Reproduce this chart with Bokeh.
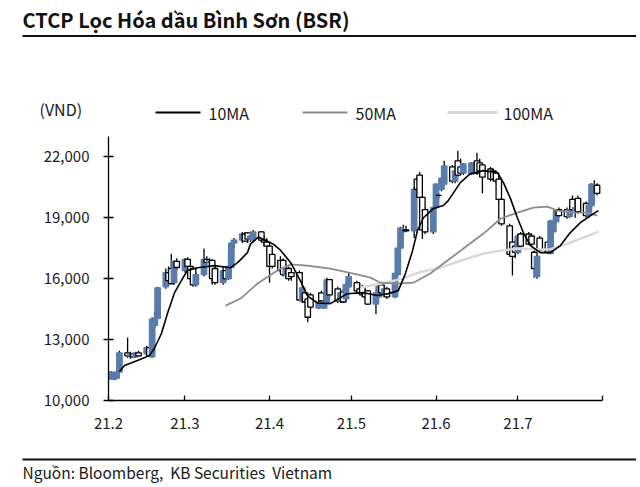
import numpy as np
import pandas as pd
from bokeh.plotting import figure
from bokeh.layouts import column
from bokeh.models import Range1d, FixedTicker, NumeralTickFormatter, ColumnDataSource
from bokeh.core.properties import value
from bokeh.embed import file_html
from bokeh.resources import INLINE

# ---------------- data ----------------
DATES = pd.bdate_range("2021-02-01", "2021-07-30")

OPEN = [11050, 11100, 11050, 11100, 11400, 12350, 12200, 12300, 12150, 12350,
        12300, 12600, 12150, 13700, 14050, 15600, 16300, 16500, 15800, 16850,
        16400, 16950, 16600, 16500, 15700, 16200, 16950, 16800, 16900, 16500,
        15800, 16400, 16000, 16550, 17750, 17900, 18200, 18250, 17950, 17900,
        18300, 17900, 17800, 17600, 17200, 16900, 16900, 16200, 16500, 16300,
        16300, 14900, 15300, 15000, 15200, 14550, 15300, 14550, 14800, 15950,
        15500, 14900, 15350, 15000, 15600, 15800, 15500, 15600, 15300, 15400,
        14750, 15100, 15700, 15300, 15500, 15100, 16200, 17500, 18300, 18400,
        18350, 20900, 21100, 20000, 19400, 18300, 19500, 20100, 20400, 20650,
        21500, 20800, 21800, 21500, 21200, 21150, 21300, 21800, 21700, 21600,
        21400, 21300, 21200, 20900, 19900, 18600, 17800, 17600, 17300, 18200,
        18200, 18100, 17300, 16100, 18000, 17800, 17250, 18300, 18800, 19400,
        19400, 19050, 19900, 19400, 19950, 19700, 19100, 19600, 20200, 20600]
HIGH = [11450, 11450, 11400, 11450, 12450, 13100, 12400, 12350, 12400, 12450,
        12700, 12650, 14100, 14400, 15600, 16500, 16600, 17230, 16900, 17000,
        17000, 17050, 16800, 16600, 16300, 17480, 17100, 17000, 16950, 16650,
        16600, 16500, 17230, 17800, 18000, 18300, 18300, 18300, 18300, 18400,
        18350, 18100, 18000, 17750, 17300, 17100, 17000, 16700, 16600, 16500,
        16400, 15600, 15400, 15100, 15300, 15200, 15400, 14900, 16050, 16000,
        15600, 15400, 15500, 15800, 16300, 15900, 15800, 15700, 15500, 15450,
        15350, 15750, 15800, 15600, 15600, 16300, 17550, 18550, 18650, 18600,
        20500, 21000, 21250, 20100, 19500, 19550, 20700, 20200, 21000, 21800,
        21600, 21400, 22300, 21900, 21700, 21750, 21700, 22200, 21900, 21700,
        21500, 21400, 21300, 21100, 20000, 18700, 18000, 17900, 18200, 18300,
        18300, 18200, 17400, 17150, 18100, 17900, 18900, 18900, 19400, 19500,
        19500, 19500, 20100, 19900, 20100, 19800, 19700, 20700, 20850, 20700]
LOW = [11000, 11050, 11000, 11050, 11350, 12100, 12050, 12100, 12100, 12150,
       12200, 12150, 12100, 13600, 14000, 15500, 15800, 15750, 15700, 16400,
       16300, 16550, 15900, 15600, 15600, 16100, 16700, 16600, 15700, 15700,
       15700, 15900, 15950, 16500, 17500, 17750, 17800, 17750, 17800, 17850,
       17800, 17600, 17500, 15800, 16500, 16300, 16100, 16000, 15900, 15900,
       14900, 14800, 14800, 13850, 14500, 14500, 14800, 14500, 14750, 15100,
       14800, 14800, 14800, 14900, 15500, 15300, 15200, 15100, 15000, 14700,
       14250, 15050, 15200, 15100, 15000, 15050, 16150, 17450, 18200, 18300,
       18000, 20200, 19950, 17950, 18200, 18200, 19400, 19950, 20300, 20600,
       20700, 20700, 21000, 21100, 21100, 21100, 21200, 21100, 21200, 20200,
       20800, 20800, 20700, 19800, 18600, 17100, 16150, 17000, 17200, 17500,
       17650, 17600, 16050, 16000, 17300, 17200, 17200, 18200, 18700, 19000,
       18950, 19000, 19300, 19000, 19200, 19000, 19000, 19500, 20100, 20100]
CLOSE = [11400, 11350, 11400, 11400, 12350, 12200, 12300, 12150, 12350, 12200,
         12600, 12200, 14000, 14050, 15550, 16300, 15900, 15750, 16850, 16550,
         16950, 16600, 16000, 15700, 16200, 16950, 16800, 16900, 16000, 15800,
         16400, 16000, 16600, 17750, 17900, 18200, 17850, 17950, 18100, 18300,
         17900, 17800, 17600, 16600, 16600, 16400, 16200, 16500, 16000, 16100,
         14950, 15550, 14850, 14100, 14600, 14800, 14900, 14850, 15950, 15200,
         14900, 15300, 14850, 15700, 16100, 15400, 15300, 15200, 15100, 14750,
         15300, 15700, 15300, 15500, 15100, 16250, 17500, 18500, 18400, 18350,
         20400, 20400, 20000, 18400, 18300, 19500, 20650, 20100, 20950, 21550,
         20800, 21300, 21100, 21200, 21650, 21700, 21650, 21200, 21300, 21000,
         20900, 20900, 20800, 19900, 18700, 17200, 17100, 17300, 18100, 17600,
         17700, 17700, 16500, 17100, 17400, 17300, 18850, 18800, 19350, 19100,
         19050, 19400, 19400, 19500, 19300, 19100, 19600, 20650, 20600, 20200]

# moving averages, read as (day offset from 1 Feb 2021, price)
MA10_DAY = [4.0, 5.9, 10.6, 15.0, 16.8, 19.4, 21.6, 24.2, 26.7, 28.9, 32.6, 38.8,
            44.7, 47.3, 50.9, 52.0, 54.9, 60.4, 63.0, 66.7, 70.3, 72.9, 76.6, 81.3,
            87.5, 93.4, 98.5, 102.2, 106.2, 108.8, 111.4, 113.2, 115.4, 119.0, 122.7,
            124.5, 128.9, 132.6, 137.4, 142.5, 144.7, 147.3, 149.8, 152.0, 154.6,
            158.2, 161.9, 165.6, 169.2, 172.9, 176.6, 179.5]
MA10_VAL = [11430, 11720, 11970, 12210, 12560, 13300, 14280, 15310, 15900, 16400, 16540, 16640,
            16540, 16790, 17280, 17700, 18050, 17700, 17400, 16800, 15900, 15150, 14800, 14770,
            15260, 15310, 15170, 15250, 15410, 16250, 17380, 18360, 19000, 19450, 19600,
            19840, 20730, 21170, 21320, 21220, 20730, 19940, 19000, 18270, 17630,
            17280, 17280, 17630, 18270, 18760, 19100, 19350]
MA50_DAY = [42.9, 48.4, 54.6, 61.9, 66.7, 72.9, 81.3, 89.7, 96.0, 99.6, 105.9, 111.7,
            117.9, 124.2, 131.5, 137.4, 143.6, 149.8, 155.7, 160.8, 164.5, 170.3, 175.5, 179.1]
MA50_VAL = [14670, 15020, 15760, 16400, 16700, 16640, 16490, 16250, 16050, 15800, 15760, 15800,
            16250, 16890, 17630, 18220, 18950, 19250, 19500, 19550, 19350, 19250, 19250, 19100]
MA100_DAY = [92.3, 101.5, 107.7, 113.6, 121.6, 131.5, 137.4, 143.6, 149.8, 157.1, 161.9,
             168.1, 174.0, 179.5]
MA100_VAL = [15560, 15800, 16000, 16300, 16540, 16990, 17230, 17380, 17480, 17430, 17450,
             17720, 18020, 18320]

MONTH_TICKS = [0, 28, 59, 89, 120, 150, 181]
MONTH_LABELS = ["21.2", "21.3", "21.4", "21.5", "21.6", "21.7", ""]
Y_TICKS = [10000, 13000, 16000, 19000, 22000]

TITLE = "CTCP Lọc Hóa dầu Bình Sơn (BSR)"
UNIT = "(VND)"
SERIES = ["10MA", "50MA", "100MA"]
SOURCE = "Nguồn: Bloomberg,\u00a0 KB Securities\u00a0 Vietnam"

# ---------------- styling ----------------
FONT = "Noto Sans CJK KR"
BLUE = "#5a7cab"
TXT = "#1a1a1a"
MA_COLORS = ["black", "#8c8c8c", "#d9d9d9"]
MA_WIDTHS = [1.6, 1.8, 2.5]
W = 636


def blank(height, y_top, y_bottom):
    f = figure(width=W, height=height, output_backend="svg", toolbar_location=None,
               x_range=Range1d(0, W), y_range=Range1d(y_bottom, y_top),
               x_axis_location=None, y_axis_location=None,
               min_border=0, min_border_left=0, min_border_right=0,
               min_border_top=0, min_border_bottom=0, frame_align=False)
    f.outline_line_color = None
    f.grid.visible = False
    return f


# ---- header (page pixel coordinates, y downward) ----
HEAD_H = 130
head = blank(HEAD_H, 0, HEAD_H)
head.text(x=[22], y=[19], text=[TITLE], text_font=value(FONT), text_font_size="20px",
          text_font_style="bold", text_color="#111111", text_baseline="middle")
head.segment(x0=[22], y0=[35.5], x1=[W], y1=[35.5], line_color="#111111", line_width=2)
head.text(x=[39], y=[108], text=[UNIT], text_font=value(FONT), text_font_size="16px",
          text_color=TXT, text_baseline="middle")
leg_line_x = [(155, 200), (302, 347), (447, 497)]
leg_text_x = [208, 355, 503]
for (a, b), tx, name, col, lw in zip(leg_line_x, leg_text_x, SERIES, MA_COLORS, MA_WIDTHS):
    head.segment(x0=[a], y0=[112], x1=[b], y1=[112], line_color=col, line_width=lw + 0.4)
    head.text(x=[tx], y=[112], text=[name], text_font=value(FONT), text_font_size="16px",
              text_color=TXT, text_baseline="middle")

# ---- main chart ----
day = (DATES - pd.Timestamp("2021-02-01")).days.to_numpy()
o = np.array(OPEN); c = np.array(CLOSE)
up = c > o
src = ColumnDataSource(dict(
    x=day, low=LOW, high=HIGH,
    top=np.maximum(o, c), bottom=np.minimum(o, c),
    fill=[BLUE if u else "white" for u in up],
    line=[BLUE if u else "black" for u in up],
))

p = figure(width=W, height=310, output_backend="svg", toolbar_location=None,
           x_range=Range1d(0, 181), y_range=Range1d(10000, 23000),
           min_border_left=108, min_border_right=W - 602, min_border_top=6,
           min_border_bottom=40, background_fill_color="white",
           border_fill_color="white", frame_align=False)
p.outline_line_color = None
p.grid.visible = False

p.segment(x0="x", y0="low", x1="x", y1="high", source=src, line_color="black",
          line_width=1.3)
p.vbar(x="x", width=2.0, top="top", bottom="bottom", source=src,
       fill_color="fill", line_color="line", line_width=1.3)

p.line(MA100_DAY, MA100_VAL, line_color=MA_COLORS[2], line_width=MA_WIDTHS[2])
p.line(MA50_DAY, MA50_VAL, line_color=MA_COLORS[1], line_width=MA_WIDTHS[1])
p.line(MA10_DAY, MA10_VAL, line_color=MA_COLORS[0], line_width=MA_WIDTHS[0])

xa = p.xaxis[0]
xa.ticker = FixedTicker(ticks=MONTH_TICKS)
xa.major_label_overrides = {t: l for t, l in zip(MONTH_TICKS, MONTH_LABELS)}
xa.major_tick_in = 5
xa.major_tick_out = 0
xa.minor_tick_line_color = None
xa.axis_line_color = "black"
xa.axis_line_width = 1.3
xa.major_tick_line_color = "black"
xa.major_tick_line_width = 1.3
xa.major_label_text_font = FONT
xa.major_label_text_font_size = "15px"
xa.major_label_text_color = TXT
xa.major_label_standoff = 17

ya = p.yaxis[0]
ya.ticker = FixedTicker(ticks=Y_TICKS)
ya.formatter = NumeralTickFormatter(format="0,0")
ya.major_tick_in = 5
ya.major_tick_out = 5
ya.minor_tick_line_color = None
ya.axis_line_color = "black"
ya.axis_line_width = 1.3
ya.major_tick_line_color = "black"
ya.major_tick_line_width = 1.3
ya.major_label_text_font = FONT
ya.major_label_text_font_size = "15px"
ya.major_label_text_color = TXT
ya.major_label_standoff = 14

# ---- footer (page pixel coordinates, y downward) ----
FOOT_TOP = HEAD_H + 310
FOOT_H = 43
foot = blank(FOOT_H, FOOT_TOP, FOOT_TOP + FOOT_H)
foot.segment(x0=[22], y0=[459], x1=[636], y1=[459], line_color="#111111", line_width=2)
foot.text(x=[22], y=[471], text=[SOURCE], text_font=value(FONT), text_font_size="15.5px",
          text_color=TXT, text_baseline="middle")

layout = column(head, p, foot, spacing=0)
open("out.html", "w").write(file_html(layout, INLINE))
